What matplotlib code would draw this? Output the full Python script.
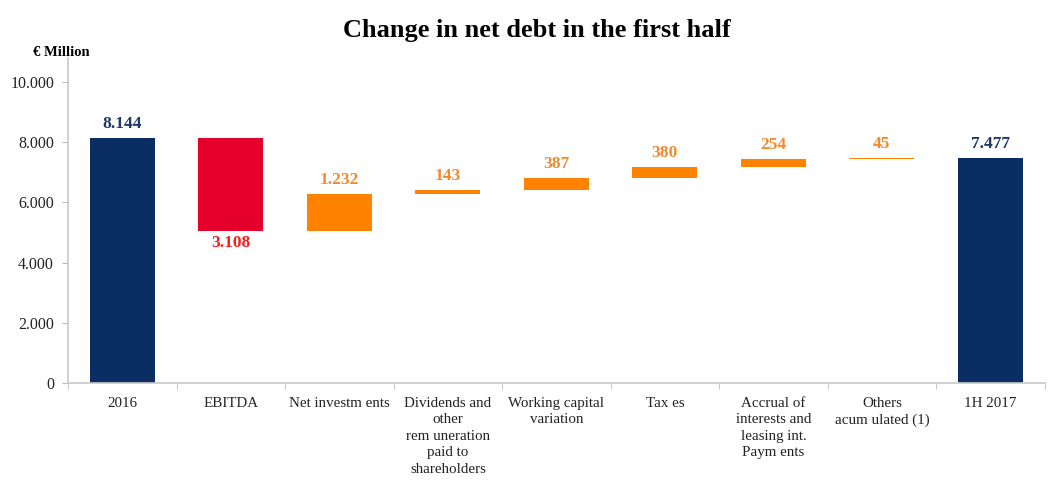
import matplotlib.pyplot as plt
import numpy as np

plt.rcParams['font.family'] = ['Liberation Serif', 'DejaVu Serif']

categories = ['2016', 'EBITDA', 'Net investm ents', 'Dividends and\nother\nrem uneration\npaid to\nshareholders',
              'Working capital\nvariation', 'Tax es', 'Accrual of\ninterests and\nleasing int.\nPaym ents',
              'Others\nacum ulated (1)', '1H 2017']
changes = [8144, -3108, 1232, 143, 387, 380, 254, 45, 7477]
labels = ['8.144', '3.108', '1.232', '143', '387', '380', '254', '45', '7.477']
kinds = ['total', 'neg', 'pos', 'pos', 'pos', 'pos', 'pos', 'pos', 'total']

bar_col = {'total': '#0A2D64', 'neg': '#E4002B', 'pos': '#FF8200'}
txt_col = {'total': '#1F3864', 'neg': '#FF1A1A', 'pos': '#F08A30'}

# waterfall bottoms
bottoms = []
heights = []
level = 0
for v, k in zip(changes, kinds):
    if k == 'total':
        bottoms.append(0)
        heights.append(v)
        level = v
    elif v < 0:
        bottoms.append(level + v)
        heights.append(-v)
        level = level + v
    else:
        bottoms.append(level)
        heights.append(v)
        level = level + v

fig = plt.figure(figsize=(10.51, 4.82), dpi=100)
ax = fig.add_axes([0.0647, 0.2054, 0.9293, 0.6743])

x = np.arange(len(categories))
ax.bar(x, heights, bottom=bottoms, width=0.6,
       color=[bar_col[k] for k in kinds])

for i, k in enumerate(kinds):
    top = bottoms[i] + heights[i]
    if k == 'neg':
        ax.text(x[i], bottoms[i] - 120, labels[i], ha='center', va='top',
                fontsize=12.5, fontweight='bold', color=txt_col[k])
    else:
        ax.text(x[i], top + 200, labels[i], ha='center', va='bottom',
                fontsize=12.5, fontweight='bold', color=txt_col[k])

ax.set_xlim(-0.5, len(categories) - 0.5)
ax.set_ylim(0, 10800)
ax.set_yticks(np.arange(0, 10001, 2000))
ax.set_yticklabels(['0', '2.000', '4.000', '6.000', '8.000', '10.000'], fontsize=11.5, color='#222222')

ax.set_xticks(x)
ax.set_xticklabels(categories, fontsize=10.8, color='#222222', linespacing=1.35, va='top')
ax.set_xticks(np.arange(-0.5, len(categories), 1), minor=True)
ax.tick_params(axis='x', which='major', length=0, pad=10)
ax.tick_params(axis='x', which='minor', length=4, color='#BBBBBB')
ax.tick_params(axis='y', length=4, color='#BBBBBB', pad=6)

for s in ['top', 'right']:
    ax.spines[s].set_visible(False)
for s in ['left', 'bottom']:
    ax.spines[s].set_color('#C8C8C8')
    ax.spines[s].set_linewidth(1.2)

fig.text(0.511, 0.936, 'Change in net debt in the first half', ha='center', va='center',
         fontsize=19, fontweight='bold')
fig.text(0.058, 0.892, '€ Million', ha='center', va='center', fontsize=10.5, fontweight='bold')

fig.savefig('out.png', dpi=100)
